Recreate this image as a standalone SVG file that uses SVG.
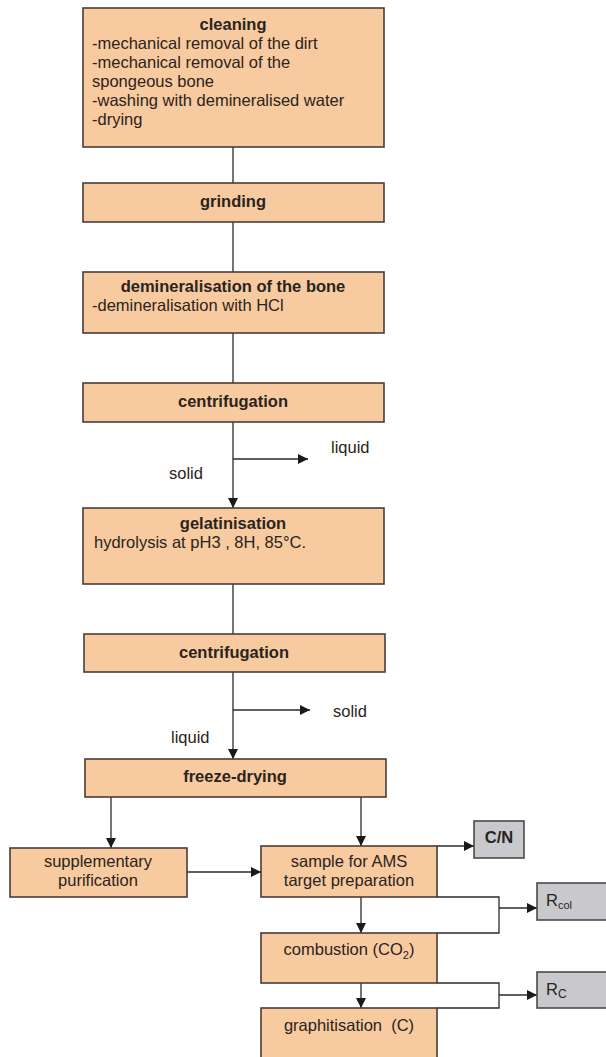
<svg xmlns="http://www.w3.org/2000/svg" width="606" height="1057" viewBox="0 0 606 1057">
<defs>
<marker id="ah" viewBox="0 0 10 10" refX="10" refY="5" markerWidth="10" markerHeight="10" markerUnits="userSpaceOnUse" orient="auto">
<path d="M0,0 L10,5 L0,10 Z" fill="#1a1a1a"/>
</marker>
<style>
.box{fill:#F8CA9F;stroke:#4a3d36;stroke-width:1.6}
.gbox{fill:#C8C8CD;stroke:#4a4a4a;stroke-width:1.6}
.t{font-family:"Liberation Sans",Arial,sans-serif;font-size:16.5px;fill:#2a2420}
.b{font-weight:bold}
.m{text-anchor:middle}
.ln{fill:none;stroke:#2a2a2a;stroke-width:1.3}
</style>
</defs>
<rect width="606" height="1057" fill="#ffffff"/>
<g id="connectors">
<line class="ln" x1="233" y1="147" x2="233" y2="183"/>
<line class="ln" x1="233" y1="222" x2="233" y2="272"/>
<line class="ln" x1="233" y1="333" x2="233" y2="383"/>
<line class="ln" x1="233" y1="422" x2="233" y2="508" marker-end="url(#ah)"/>
<line class="ln" x1="233" y1="459" x2="308" y2="459" marker-end="url(#ah)"/>
<line class="ln" x1="233" y1="584" x2="233" y2="634"/>
<line class="ln" x1="233" y1="672" x2="233" y2="759" marker-end="url(#ah)"/>
<line class="ln" x1="233" y1="710" x2="310" y2="710" marker-end="url(#ah)"/>
<line class="ln" x1="111" y1="797" x2="111" y2="848" marker-end="url(#ah)"/>
<line class="ln" x1="361" y1="797" x2="361" y2="846" marker-end="url(#ah)"/>
<line class="ln" x1="187" y1="872" x2="261" y2="872" marker-end="url(#ah)"/>
<line class="ln" x1="437" y1="846" x2="474" y2="846" marker-end="url(#ah)"/>
<line class="ln" x1="361" y1="897" x2="361" y2="933" marker-end="url(#ah)"/>
<line class="ln" x1="361" y1="983" x2="361" y2="1008" marker-end="url(#ah)"/>
<polyline class="ln" points="437,897 499,897 499,933 437,933"/>
<line class="ln" x1="499" y1="908" x2="537" y2="908" marker-end="url(#ah)"/>
<polyline class="ln" points="437,983 499,983 499,1008 437,1008"/>
<line class="ln" x1="499" y1="995" x2="537" y2="995" marker-end="url(#ah)"/>
</g>
<g id="cleaning">
<rect class="box" x="83" y="8" width="301" height="139"/>
<text class="t b m" x="233" y="30">cleaning</text>
<text class="t" x="92" y="49">-mechanical removal of the dirt</text>
<text class="t" x="92" y="68">-mechanical removal of the</text>
<text class="t" x="92" y="87">spongeous bone</text>
<text class="t" x="92" y="106">-washing with demineralised water</text>
<text class="t" x="92" y="125">-drying</text>
</g>
<g id="grinding">
<rect class="box" x="83" y="183" width="301" height="39"/>
<text class="t b m" x="233" y="207">grinding</text>
</g>
<g id="demineralisation">
<rect class="box" x="83" y="272" width="301" height="61"/>
<text class="t b m" x="233" y="292">demineralisation of the bone</text>
<text class="t" x="92" y="311">-demineralisation with HCl</text>
</g>
<g id="centrifugation1">
<rect class="box" x="83" y="383" width="301" height="39"/>
<text class="t b m" x="233" y="407">centrifugation</text>
</g>
<g id="labels1">
<text class="t" x="331" y="453">liquid</text>
<text class="t" x="169" y="479">solid</text>
</g>
<g id="gelatinisation">
<rect class="box" x="83" y="508" width="301" height="76"/>
<text class="t b m" x="233" y="529">gelatinisation</text>
<text class="t" x="94" y="548">hydrolysis at pH3 , 8H, 85°C.</text>
</g>
<g id="centrifugation2">
<rect class="box" x="84" y="634" width="301" height="38"/>
<text class="t b m" x="234" y="658">centrifugation</text>
</g>
<g id="labels2">
<text class="t" x="333" y="717">solid</text>
<text class="t" x="171" y="743">liquid</text>
</g>
<g id="freeze-drying">
<rect class="box" x="85" y="759" width="301" height="38"/>
<text class="t b m" x="235" y="782">freeze-drying</text>
</g>
<g id="supplementary">
<rect class="box" x="10" y="848" width="177" height="49"/>
<text class="t m" x="98" y="867">supplementary</text>
<text class="t m" x="98" y="886">purification</text>
</g>
<g id="sample">
<rect class="box" x="261" y="846" width="176" height="51"/>
<text class="t m" x="349" y="867">sample for AMS</text>
<text class="t m" x="349" y="886">target preparation</text>
</g>
<g id="combustion">
<rect class="box" x="261" y="933" width="176" height="50"/>
<text class="t m" x="349" y="955">combustion (CO<tspan font-size="11" dy="4">2</tspan><tspan dy="-4">)</tspan></text>
</g>
<g id="graphitisation">
<rect class="box" x="261" y="1008" width="176" height="60"/>
<text class="t m" x="349" y="1031" xml:space="preserve">graphitisation  (C)</text>
</g>
<g id="cn">
<rect class="gbox" x="474" y="821" width="50" height="37"/>
<text class="t b m" x="499" y="843">C/N</text>
</g>
<g id="rcol">
<rect class="gbox" x="537" y="883" width="80" height="37"/>
<text class="t" x="546" y="906">R<tspan font-size="11" dy="3">col</tspan></text>
</g>
<g id="rc">
<rect class="gbox" x="537" y="972" width="80" height="36"/>
<text class="t" x="546" y="995">R<tspan font-size="12" dy="3">C</tspan></text>
</g>
</svg>
